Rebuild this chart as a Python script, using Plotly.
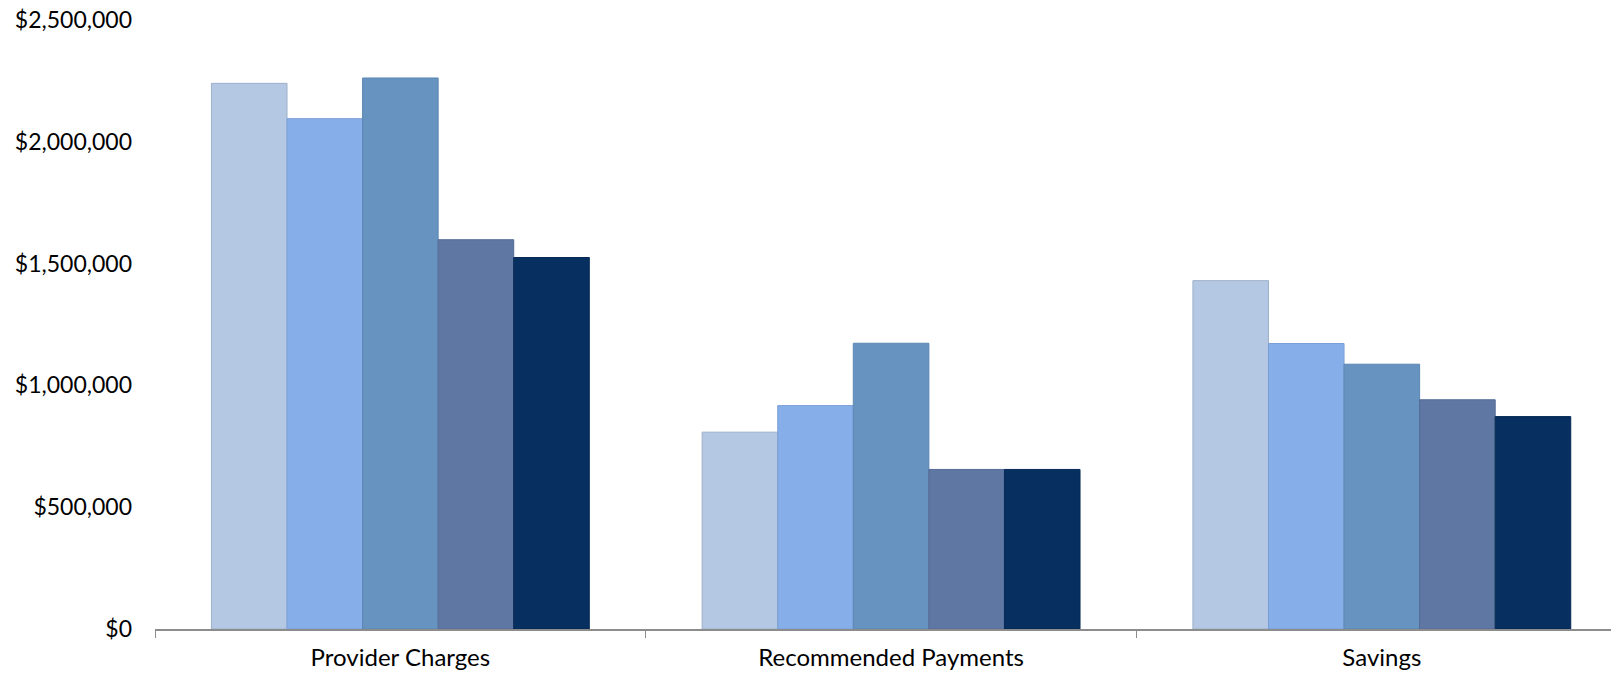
import plotly.graph_objects as go

# Cost categories on the x axis
categories = ["Provider Charges", "Recommended Payments", "Savings"]

# One series per period, values in dollars for each category
period_names = ["Period 1", "Period 2", "Period 3", "Period 4", "Period 5"]
period_1 = [2240000, 808000, 1430000]
period_2 = [2095000, 917000, 1172000]
period_3 = [2262000, 1173000, 1087000]
period_4 = [1598000, 655000, 941000]
period_5 = [1525000, 655000, 872000]
series_values = [period_1, period_2, period_3, period_4, period_5]

# Y axis ticks
y_tick_values = [0, 500000, 1000000, 1500000, 2000000, 2500000]
y_tick_labels = ["$0", "$500,000", "$1,000,000", "$1,500,000", "$2,000,000", "$2,500,000"]

fill_colors = ["#B5C8E3", "#86AEE8", "#6693C0", "#5E77A3", "#072F5F"]
edge_colors = ["#9EAFC9", "#7A9FD6", "#5C86B2", "#546B95", "#062A55"]

fig = go.Figure()
for name, vals, fc, ec in zip(period_names, series_values, fill_colors, edge_colors):
    fig.add_trace(go.Bar(
        name=name,
        x=categories,
        y=vals,
        marker=dict(color=fc, line=dict(color=ec, width=1)),
    ))

font_family = "Lato, 'Open Sans', sans-serif"

fig.update_layout(
    width=1611,
    height=675,
    margin=dict(l=155, r=0, t=20, b=46),
    paper_bgcolor="white",
    plot_bgcolor="white",
    barmode="group",
    bargap=0.23,
    bargroupgap=0,
    showlegend=False,
    font=dict(family=font_family, size=23, color="#000000"),
    xaxis=dict(
        range=[-0.5, 2.467],
        showline=True,
        linecolor="#8C8C8C",
        linewidth=1.5,
        ticks="outside",
        tickson="boundaries",
        ticklen=7,
        tickwidth=1,
        tickcolor="#8C8C8C",
        showgrid=False,
        zeroline=False,
        ticklabelstandoff=6,
        tickfont=dict(family=font_family, size=24, color="#000000"),
    ),
    yaxis=dict(
        range=[0, 2500000],
        tickvals=y_tick_values,
        ticktext=y_tick_labels,
        showgrid=False,
        zeroline=False,
        showline=False,
        ticks="",
        ticklabelstandoff=22,
        tickfont=dict(family=font_family, size=23, color="#000000"),
    ),
)

fig.write_html("out.html")
